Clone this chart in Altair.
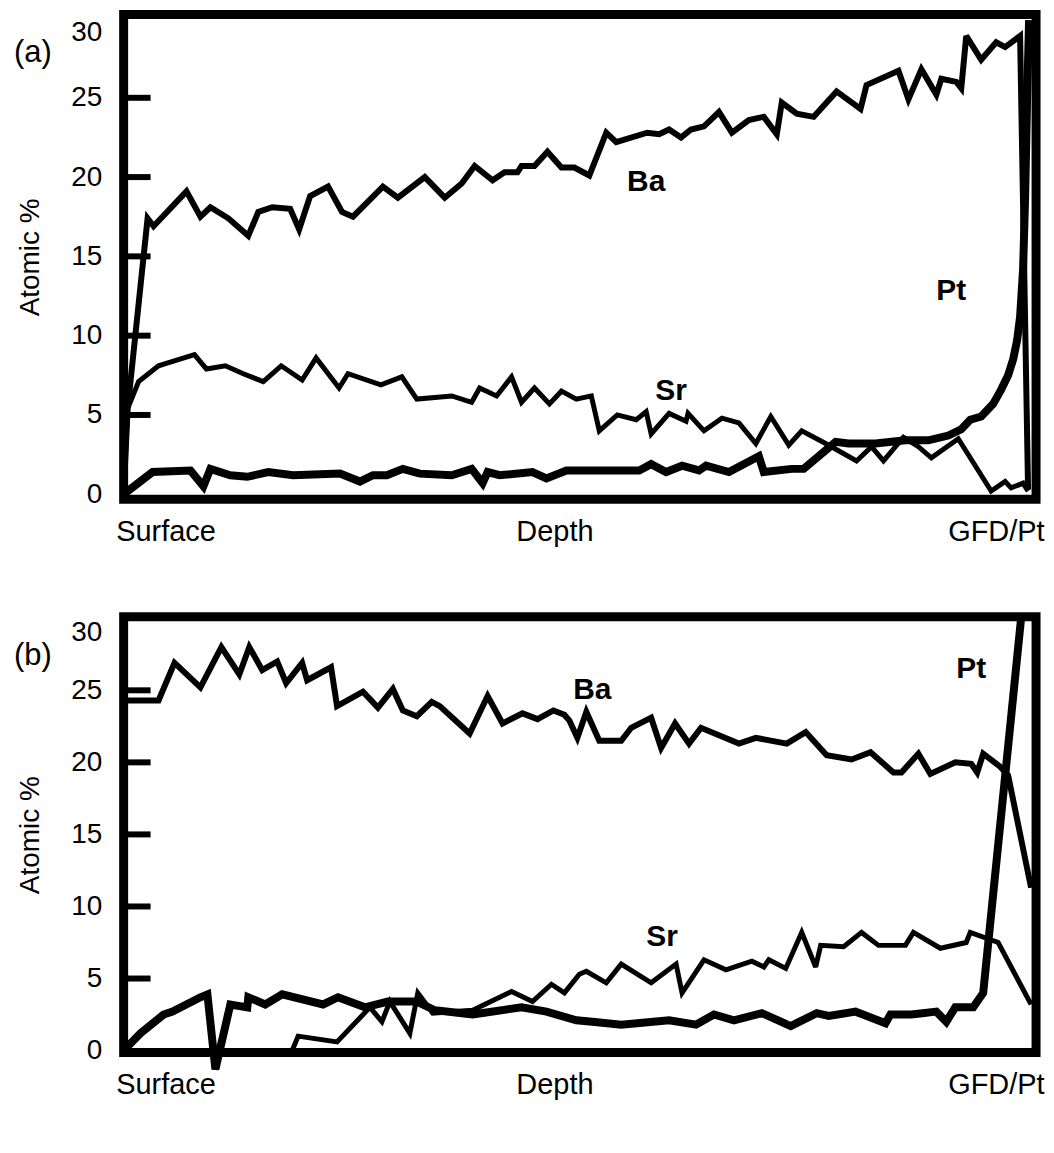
import altair as alt
import pandas as pd

FONT = "Liberation Sans"

# ---------------- Panel (a) ----------------
ba_a_depth = [0, 4, 24, 30, 63, 77, 87, 105, 125, 135, 149, 167, 176, 187, 205, 219, 230, 260, 275, 302,
              322, 339, 352, 370, 382, 395, 399, 412, 425, 439, 452, 467, 484, 494, 525, 537, 547, 559,
              569, 582, 597, 610, 627, 642, 655, 660, 675, 692, 715, 739, 745, 777, 787, 800, 815, 820,
              835, 840, 845, 860, 875, 884, 899, 907]
ba_a_val = [0, 5.4, 17.4, 16.9, 19.1, 17.5, 18.1, 17.4, 16.3, 17.8, 18.1, 18.0, 16.7, 18.8, 19.4, 17.8,
            17.5, 19.4, 18.7, 20.0, 18.7, 19.6, 20.7, 19.8, 20.3, 20.3, 20.7, 20.7, 21.6, 20.6, 20.6,
            20.1, 22.8, 22.2, 22.8, 22.7, 23.0, 22.5, 23.0, 23.2, 24.1, 22.8, 23.6, 23.8, 22.7, 24.7,
            24.0, 23.8, 25.4, 24.3, 25.8, 26.7, 24.9, 26.8, 25.2, 26.2, 26.0, 25.6, 28.9, 27.4, 28.5,
            28.2, 28.9, 0.3]

sr_a_depth = [0, 4, 15, 35, 50, 71, 83, 102, 120, 140, 158, 179, 193, 216, 225, 258, 279, 294, 329, 349,
              357, 374, 389, 399, 412, 427, 439, 454, 469, 477, 495, 514, 524, 529, 547, 564, 566, 582,
              600, 617, 634, 649, 667, 680, 704, 735, 750, 762, 782, 797, 810, 837, 870, 884, 890, 902,
              907]
sr_a_val = [0, 5.4, 7.1, 8.1, 8.4, 8.8, 7.9, 8.1, 7.6, 7.1, 8.1, 7.2, 8.6, 6.7, 7.6, 6.9, 7.4, 6.0, 6.2,
            5.8, 6.7, 6.2, 7.4, 5.8, 6.7, 5.7, 6.5, 6.0, 6.2, 4.0, 5.0, 4.7, 5.2, 3.8, 5.1, 4.6, 5.1,
            4.0, 4.8, 4.5, 3.2, 4.9, 3.1, 4.0, 3.2, 2.1, 3.0, 2.1, 3.6, 3.0, 2.3, 3.5, 0.2, 0.8, 0.4,
            0.7, 0.2]

pt_a_depth = [0, 29, 67, 80, 87, 107, 124, 145, 170, 217, 237, 250, 264, 280, 297, 329, 349, 360, 365,
              377, 410, 424, 444, 457, 517, 529, 544, 560, 577, 584, 607, 637, 642, 670, 682, 714, 727,
              754, 784, 807, 827, 840, 849, 860, 872, 880, 887, 892, 896, 899, 902, 904, 906, 908]
pt_a_val = [0, 1.4, 1.5, 0.5, 1.6, 1.2, 1.1, 1.4, 1.2, 1.3, 0.8, 1.2, 1.2, 1.6, 1.3, 1.2, 1.6, 0.7, 1.4,
            1.2, 1.4, 1.0, 1.5, 1.5, 1.5, 1.9, 1.4, 1.8, 1.5, 1.8, 1.4, 2.4, 1.4, 1.6, 1.6, 3.3, 3.2,
            3.2, 3.4, 3.4, 3.7, 4.1, 4.7, 4.9, 5.7, 6.6, 7.5, 8.5, 9.7, 11.2, 14.2, 18.6, 24.8, 29.9]

# ---------------- Panel (b) ----------------
ba_b_depth = [4, 35, 51, 77, 98, 116, 126, 139, 154, 163, 179, 184, 208, 214, 240, 255, 270, 280, 294,
              309, 317, 347, 365, 380, 400, 415, 431, 442, 447, 455, 464, 477, 499, 509, 529, 539, 553,
              567, 579, 617, 634, 665, 684, 705, 730, 749, 772, 780, 797, 809, 834, 850, 856, 862, 879,
              887, 910]
ba_b_val = [24.3, 24.3, 26.9, 25.2, 28.0, 26.1, 28.0, 26.4, 27.0, 25.5, 26.9, 25.7, 26.6, 23.9, 24.9,
            23.8, 25.1, 23.6, 23.2, 24.2, 23.9, 22.0, 24.6, 22.7, 23.4, 23.0, 23.6, 23.3, 22.9, 21.7,
            23.5, 21.5, 21.5, 22.4, 23.1, 21.0, 22.7, 21.3, 22.4, 21.3, 21.7, 21.3, 22.1, 20.5, 20.2,
            20.7, 19.3, 19.3, 20.6, 19.2, 20.0, 19.9, 19.3, 20.6, 19.7, 19.1, 11.3]

sr_b_depth = [169, 175, 214, 247, 259, 267, 287, 295, 310, 350, 389, 410, 429, 442, 457, 464, 484, 499,
              529, 554, 560, 582, 604, 630, 642, 647, 664, 680, 694, 699, 722, 740, 757, 784, 792, 819,
              845, 849, 877, 910]
sr_b_val = [0.0, 1.0, 0.6, 3.0, 2.0, 3.4, 1.2, 4.0, 2.6, 2.8, 4.1, 3.4, 4.6, 4.0, 5.3, 5.5, 4.7, 6.0,
            4.7, 6.0, 4.0, 6.3, 5.6, 6.2, 5.8, 6.3, 5.7, 8.2, 5.8, 7.3, 7.2, 8.2, 7.3, 7.3, 8.2, 7.1,
            7.5, 8.2, 7.5, 3.2]

pt_b_depth = [0, 17, 40, 49, 77, 84, 92, 107, 124, 125, 142, 159, 200, 215, 242, 265, 294, 312, 350,
              399, 424, 454, 470, 499, 547, 574, 592, 612, 640, 669, 695, 707, 734, 764, 769, 790, 815,
              825, 834, 852, 862, 900]
pt_b_val = [0, 1.2, 2.5, 2.7, 3.7, 3.9, -1.3, 3.2, 3.0, 3.7, 3.2, 3.9, 3.2, 3.7, 3.0, 3.4, 3.4, 2.8,
            2.5, 3.0, 2.7, 2.1, 2.0, 1.8, 2.1, 1.8, 2.5, 2.1, 2.6, 1.7, 2.6, 2.4, 2.7, 1.9, 2.5, 2.5,
            2.7, 2.0, 3.0, 3.0, 4.0, 30.0]

# element labels inside the panels
lab_a_text = ["Ba", "Sr", "Pt"]
lab_a_depth = [524, 549, 830]
lab_a_val = [19.7, 6.5, 12.8]
lab_b_text = ["Ba", "Sr", "Pt"]
lab_b_depth = [470, 540, 850]
lab_b_val = [25.0, 7.9, 26.5]

y_ticks = [0, 5, 10, 15, 20, 25, 30]
inner_ticks = [5, 10, 15, 20, 25]
x_label_pos = [0, 432, 915]

W = 915


def panel(tag, ba, sr, pt, labs, ydom, height, flush):
    xs = alt.Scale(domain=[0, W], nice=False, zero=False)
    ys = alt.Scale(domain=ydom, nice=False, zero=False)
    xax = alt.Axis(values=x_label_pos, ticks=False, domain=False, grid=False, title=None,
                   labelExpr="datum.value == 0 ? 'Surface' : (datum.value == 915 ? 'GFD/Pt' : 'Depth')",
                   labelFlush=True, labelFlushOffset=8, labelFont=FONT, labelFontSize=29,
                   labelColor="black", labelPadding=18, labelOverlap=False)
    yax = alt.Axis(values=y_ticks, ticks=False, domain=False, grid=False, title="Atomic %",
                   labelFont=FONT, labelFontSize=28, labelColor="black", labelPadding=22,
                   labelFlush=flush, labelOverlap=False,
                   titleFont=FONT, titleFontSize=28, titleFontWeight="normal", titleColor="black",
                   titlePadding=26)

    def X(field):
        return alt.X(field, scale=xs, axis=xax, title=None)

    def Y(field):
        return alt.Y(field, scale=ys, axis=yax, title="Atomic %")

    def line(depth, val, sw):
        df = pd.DataFrame({"depth": depth, "val": val})
        return alt.Chart(df).mark_line(color="black", strokeWidth=sw, strokeJoin="miter",
                                       strokeMiterLimit=3).encode(
            x=X("depth:Q"), y=Y("val:Q"), order="depth:Q")

    ticks = alt.Chart(pd.DataFrame({"val": inner_ticks})).mark_rule(color="black", strokeWidth=6).encode(
        y=Y("val:Q"), x=alt.value(0), x2=alt.value(27))

    ldf = pd.DataFrame({"t": labs[0], "depth": labs[1], "val": labs[2]})
    labels = alt.Chart(ldf).mark_text(font=FONT, fontSize=30, fontWeight="bold", color="black").encode(
        x=X("depth:Q"), y=Y("val:Q"), text="t:N")

    tdf = pd.DataFrame({"t": [tag]})
    tagm = alt.Chart(tdf).mark_text(font=FONT, fontSize=31, color="black", align="center",
                                    baseline="middle").encode(
        x=alt.value(-91), y=alt.value(39), text="t:N")

    return alt.layer(
        line(ba[0], ba[1], 6),
        line(sr[0], sr[1], 5),
        line(pt[0], pt[1], 8),
        ticks, labels, tagm,
    ).properties(width=W, height=height)


pa = panel("(a)", (ba_a_depth, ba_a_val), (sr_a_depth, sr_a_val), (pt_a_depth, pt_a_val),
           (lab_a_text, lab_a_depth, lab_a_val), [-0.31, 30.25], 486, 4.5)
pb = panel("(b)", (ba_b_depth, ba_b_val), (sr_b_depth, sr_b_val), (pt_b_depth, pt_b_val),
           (lab_b_text, lab_b_depth, lab_b_val), [-0.14, 30.1], 437, 1.7)

chart = alt.vconcat(pa, pb, spacing=118, bounds="flush").properties(
    padding={"left": 9, "top": 2, "right": 5, "bottom": 5},
    background="white",
).configure_view(stroke="black", strokeWidth=9)

chart.save("out.html", embed_options={"renderer": "svg", "actions": False})
